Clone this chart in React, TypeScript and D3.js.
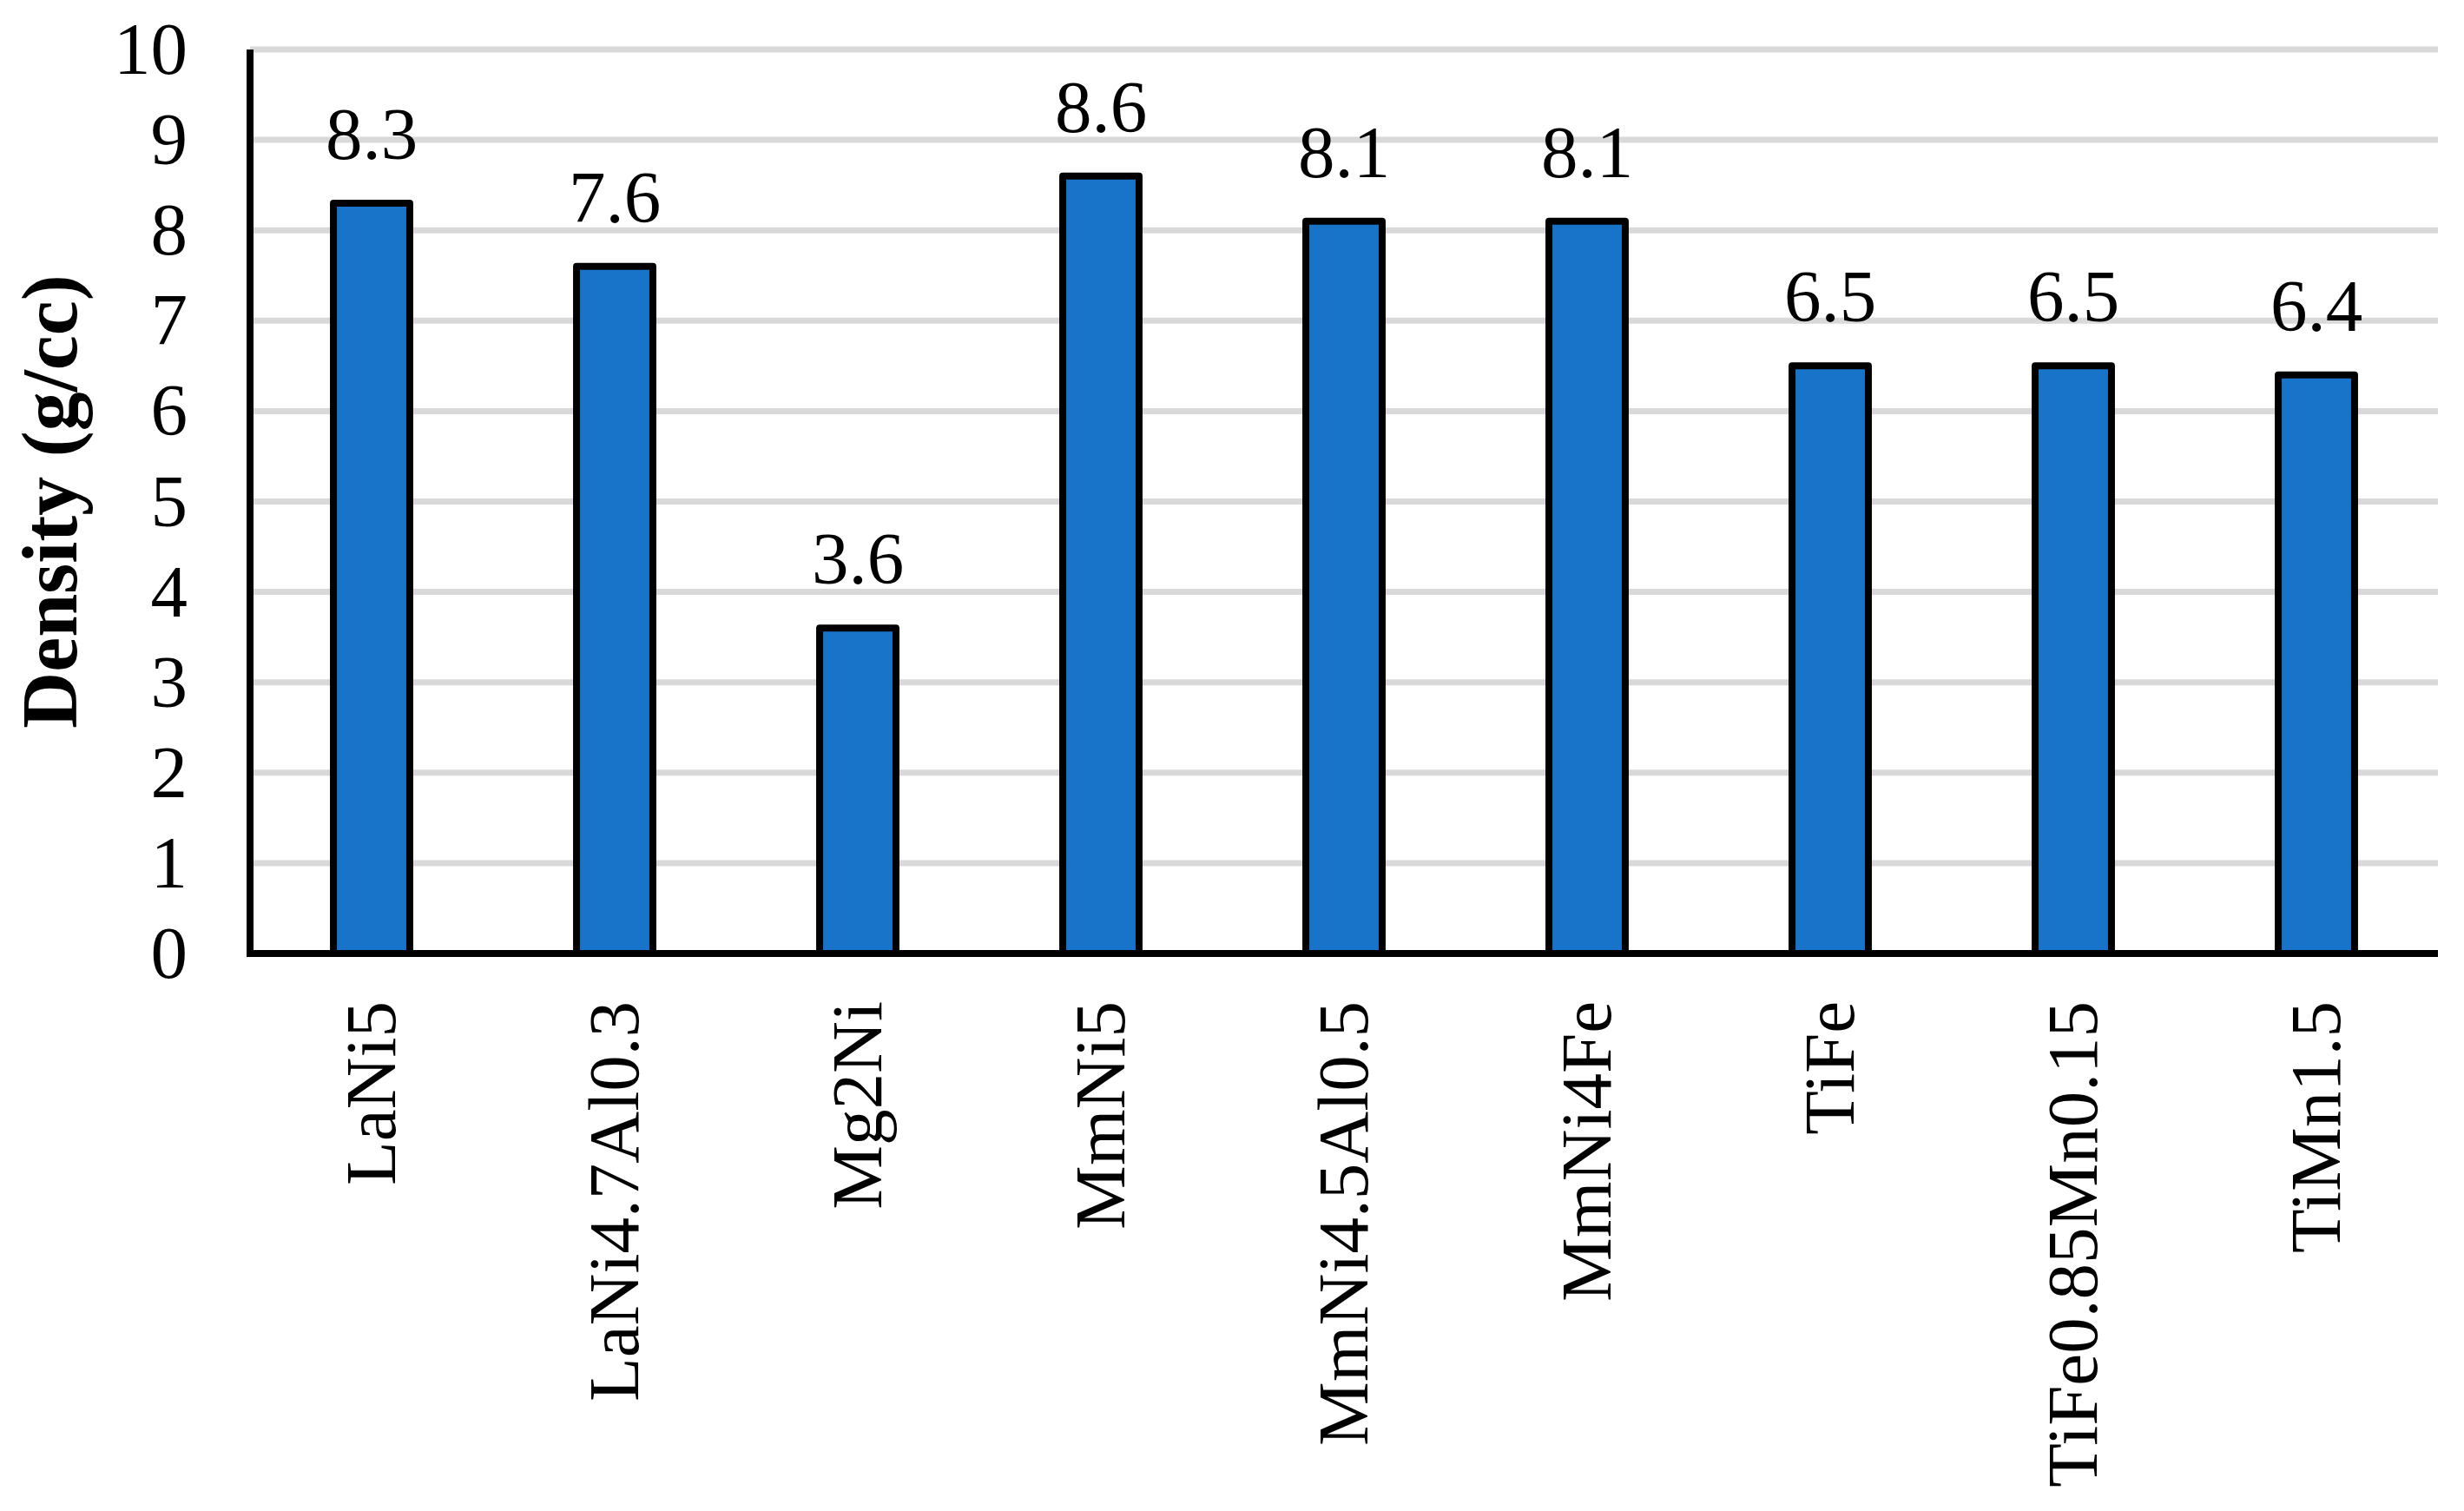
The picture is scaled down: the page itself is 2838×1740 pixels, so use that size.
import * as d3 from "d3";

const categories = [
  "LaNi5",
  "LaNi4.7Al0.3",
  "Mg2Ni",
  "MmNi5",
  "MmNi4.5Al0.5",
  "MmNi4Fe",
  "TiFe",
  "TiFe0.85Mn0.15",
  "TiMn1.5",
];
const density = [8.3, 7.6, 3.6, 8.6, 8.1, 8.1, 6.5, 6.5, 6.4];
const yTicks = [0, 1, 2, 3, 4, 5, 6, 7, 8, 9, 10];
const yLabel = "Density (g/cc)";

const W = 2838;
const H = 1740;
const margin = { top: 57, right: 30, bottom: 642, left: 288 };
const font = "'Liberation Serif', 'Times New Roman', serif";

const App = () => {
  const innerW = W - margin.left - margin.right;
  const innerH = H - margin.top - margin.bottom;

  const x = d3
    .scaleBand()
    .domain(categories)
    .range([margin.left, margin.left + innerW])
    .paddingInner(0.686)
    .paddingOuter(0.343);

  const y = d3
    .scaleLinear()
    .domain([0, 10])
    .range([margin.top + innerH, margin.top]);

  const center = (c) => x(c) + x.bandwidth() / 2;

  return (
    <svg
      width={W}
      height={H}
      style={{ position: "absolute", left: 0, top: 0, background: "#fff" }}
    >
      {/* grid */}
      {yTicks.filter(t => t > 0).map(t => (
        <line
          key={"g" + t}
          x1={margin.left}
          x2={margin.left + innerW}
          y1={y(t)}
          y2={y(t)}
          stroke="#d9d9d9"
          strokeWidth={7}
        />
      ))}

      {/* y tick labels */}
      {yTicks.map(t => (
        <text
          key={"t" + t}
          x={216}
          y={y(t)}
          dy="0.33em"
          textAnchor="end"
          fontFamily={font}
          fontSize={85}
        >
          {t}
        </text>
      ))}

      {/* bars */}
      {categories.map((c, i) => (
        <rect
          key={c}
          x={x(c)}
          y={y(density[i])}
          width={x.bandwidth()}
          height={y(0) - y(density[i])}
          fill="#1874c9"
          stroke="#000"
          strokeWidth={8}
          strokeLinejoin="round"
        />
      ))}

      {/* value labels */}
      {categories.map((c, i) => (
        <text
          key={"v" + c}
          x={center(c)}
          y={y(density[i]) - 51}
          textAnchor="middle"
          fontFamily={font}
          fontSize={85}
        >
          {density[i]}
        </text>
      ))}

      {/* axes */}
      <line
        x1={margin.left}
        x2={margin.left}
        y1={margin.top}
        y2={y(0) + 4}
        stroke="#000"
        strokeWidth={8}
      />
      <line
        x1={margin.left - 4}
        x2={margin.left + innerW}
        y1={y(0)}
        y2={y(0)}
        stroke="#000"
        strokeWidth={8}
      />

      {/* category labels */}
      {categories.map(c => (
        <text
          key={"x" + c}
          transform={`translate(${center(c)}, ${y(0) + 55}) rotate(-90)`}
          dy="0.33em"
          textAnchor="end"
          fontFamily={font}
          fontSize={83}
        >
          {c}
        </text>
      ))}

      {/* y title */}
      <text
        transform={`translate(88, ${(y(0) + y(10)) / 2}) rotate(-90)`}
        textAnchor="middle"
        fontFamily={font}
        fontSize={90}
        fontWeight="bold"
      >
        {yLabel}
      </text>
    </svg>
  );
};

export default App;
